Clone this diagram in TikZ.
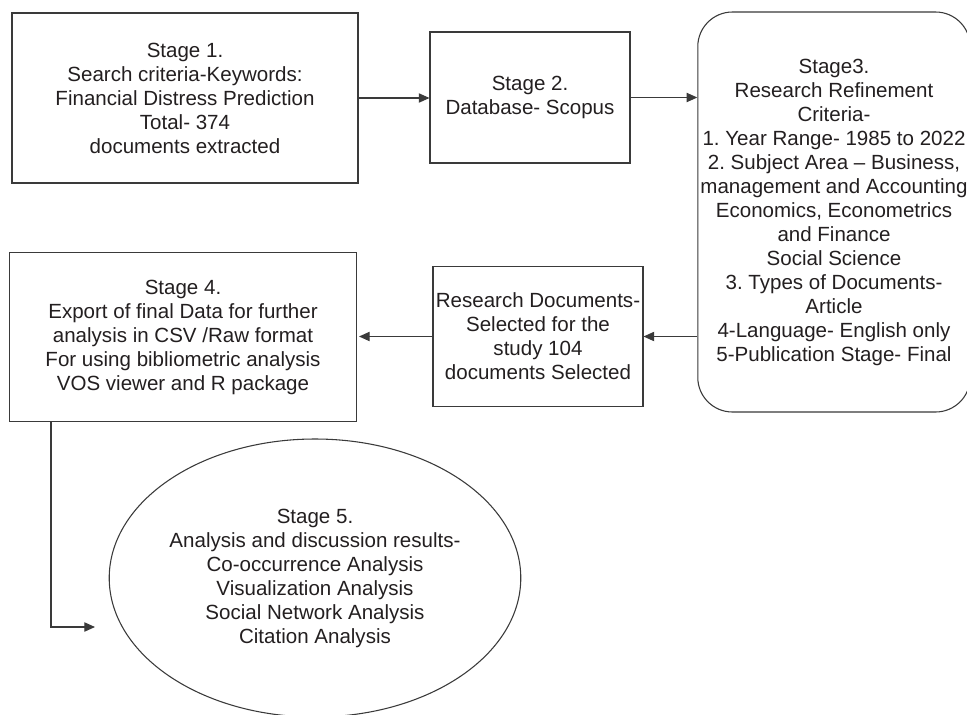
\documentclass[tikz,border=0pt]{standalone}
\usepackage{fontspec}
\setmainfont{Liberation Sans}
\usetikzlibrary{arrows.meta,shapes.geometric}
\definecolor{ink}{HTML}{231F20}
\definecolor{edge}{HTML}{3A3A3A}
\frenchspacing
\tikzset{
  boxnode/.style={draw=edge, line width=0.8pt, text=ink, align=center, inner sep=2pt,
    font=\fontsize{15.4}{18}\selectfont},
  roundnode/.style={boxnode, rounded corners=26pt},
  ovalnode/.style={boxnode, ellipse, inner sep=0pt},
  link/.style={draw=edge, line width=0.8pt, -{Triangle[length=8pt,width=7pt]}}
}
\begin{document}
\begin{tikzpicture}[x=0.75pt,y=-0.75pt]
\useasboundingbox (0,0) rectangle (967,714);
\clip (0,0) rectangle (967,714);
\fill[white] (0,0) rectangle (967,714);

\node[boxnode, minimum width=259.5pt, minimum height=127.5pt] (s1) at (185,98)
  {Stage 1.\\Search criteria-Keywords:\\Financial Distress Prediction\\Total- 374\\documents extracted};
\node[boxnode, minimum width=150pt, minimum height=98.25pt] (s2) at (530,97.5)
  {Stage 2.\\Database- Scopus};
\node[roundnode, minimum width=198pt, minimum height=300pt] (s3) at (834,212)
  {Stage3.\\Research Refinement\\Criteria-\\1. Year Range- 1985 to 2022\\2. Subject Area -- Business,\\management and Accounting\\Economics, Econometrics\\and Finance\\Social Science\\3. Types of Documents-\\Article\\4-Language- English only\\5-Publication Stage- Final};
\node[boxnode, minimum width=157.5pt, minimum height=105pt] (rd) at (538,336.5)
  {Research Documents-\\Selected for the\\study 104\\documents Selected};
\node[boxnode, minimum width=260.25pt, minimum height=126.75pt] (s4) at (183,337)
  {Stage 4.\\Export of final Data for further\\analysis in CSV /Raw format\\For using bibliometric analysis\\VOS viewer and R package};
\node[ovalnode, minimum width=307.5pt, minimum height=208.5pt] (s5) at (315,578)
  {Stage 5.\\Analysis and discussion results-\\Co-occurrence Analysis\\Visualization Analysis\\Social Network Analysis\\Citation Analysis};

\coordinate (turn) at (51,627);
\coordinate (tip) at (95,627);

\draw[link] (s1.east) -- (s1.east -| s2.west);
\draw[link] (s2.east) -- (s2.east -| s3.west);
\draw[link] (rd.east -| s3.west) -- (rd.east);
\draw[link] (rd.west) -- ([xshift=1.5pt]rd.west -| s4.east);
\draw[link] (turn |- s4.south) -- (turn) -- (tip);
\end{tikzpicture}
\end{document}
